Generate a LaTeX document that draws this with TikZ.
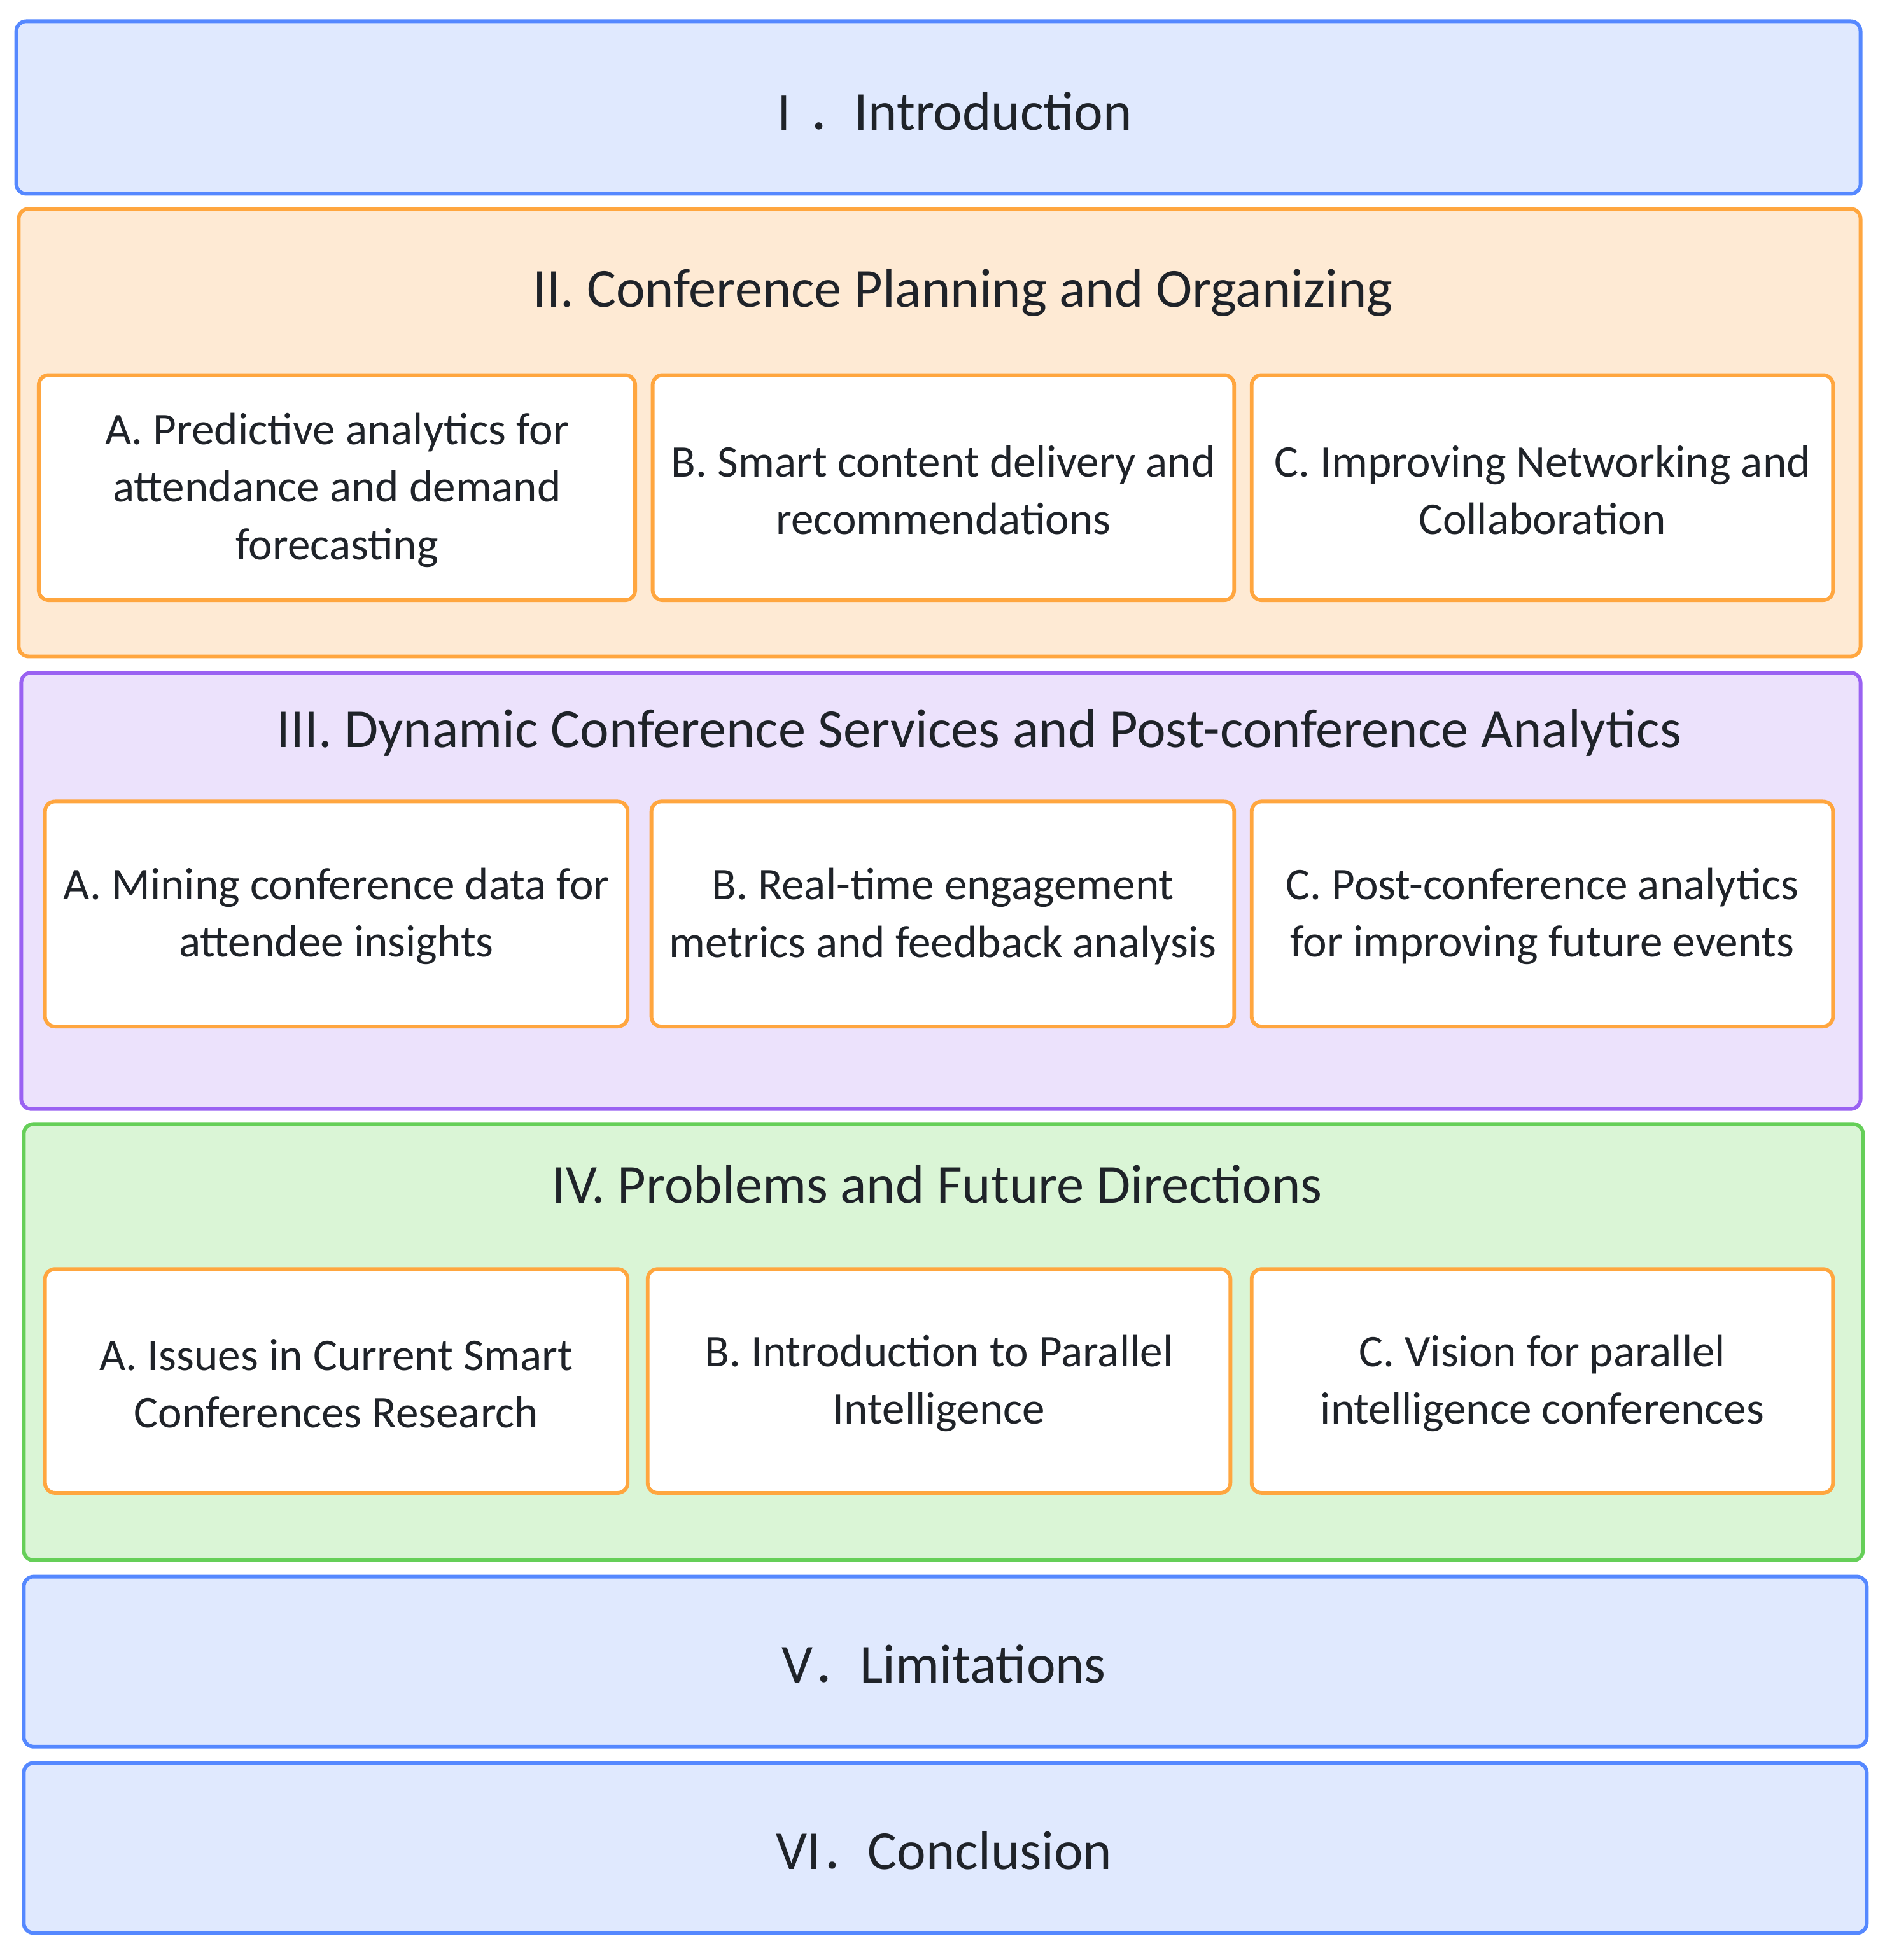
\documentclass[tikz,border=0pt]{standalone}
\usepackage{fontspec}
\usetikzlibrary{fit}
\setmainfont{Carlito}
\newfontfamily\cjk[Scale=0.85]{Noto Sans CJK SC}
\definecolor{txt}{HTML}{1F2329}
\definecolor{blueS}{HTML}{5588FF}
\definecolor{blueF}{HTML}{E0E9FE}
\definecolor{orS}{HTML}{FFA63F}
\definecolor{orF}{HTML}{FEEAD4}
\definecolor{puS}{HTML}{9A62F2}
\definecolor{puF}{HTML}{ECE2FC}
\definecolor{grS}{HTML}{65CF58}
\definecolor{grF}{HTML}{DAF5D6}
\tikzset{
  panel/.style={draw=#1S, fill=#1F, line width=1.5pt, rounded corners=4pt,
    inner sep=0pt, outer sep=0pt},
  subbox/.style={draw=orS, fill=white, line width=1.5pt, rounded corners=4pt,
    inner sep=0pt, outer sep=0pt},
  subtxt/.style={text=txt, inner sep=0pt, align=center, yshift=-1pt,
    font=\fontsize{18.2}{23.1}\selectfont},
  ttl/.style={text=txt, inner sep=0pt, font=\fontsize{22.1}{27}\selectfont}
}
\begin{document}
\begin{tikzpicture}[x=0.50235pt,y=-0.50235pt]
\path[use as bounding box, fill=white] (0pt,0pt) rectangle (760pt,-787.5pt);
% I
\node[panel=blue, fit={(13,17) (1488,155)}] (intro) {};
\node[ttl] (introT) at (757,89) {{\cjk Ⅰ．}Introduction};
% II
\node[panel=or, fit={(15,167) (1488,525)}] (plan) {};
\node[ttl] (planT) at (770,234) {II. Conference Planning and Organizing};
\node[subbox, fit={(31,300) (508,480)}] (planA) {};
\node[subbox, fit={(522,300) (987,480)}] (planB) {};
\node[subbox, fit={(1001,300) (1466,480)}] (planC) {};
\node[subtxt] (planAt) at (planA.center) {A. Predictive analytics for\\attendance and demand\\forecasting};
\node[subtxt] (planBt) at (planB.center) {B. Smart content delivery and\\recommendations};
\node[subtxt] (planCt) at (planC.center) {C. Improving Networking and\\Collaboration};
% III
\node[panel=pu, fit={(17,538) (1488,887)}] (dyn) {};
\node[ttl] (dynT) at (783,586) {III. Dynamic Conference Services and Post-conference Analytics};
\node[subbox, fit={(36,641) (502,821)}] (dynA) {};
\node[subbox, fit={(521,641) (987,821)}] (dynB) {};
\node[subbox, fit={(1001,641) (1466,821)}] (dynC) {};
\node[subtxt] (dynAt) at (dynA.center) {A. Mining conference data for\\attendee insights};
\node[subtxt] (dynBt) at (dynB.center) {B. Real-time engagement\\metrics and feedback analysis};
\node[subtxt] (dynCt) at (dynC.center) {C. Post-conference analytics\\for improving future events};
% IV
\node[panel=gr, fit={(19,899) (1490,1248)}] (prob) {};
\node[ttl] (probT) at (749.5,947) {IV. Problems and Future Directions};
\node[subbox, fit={(36,1015) (502,1194)}] (probA) {};
\node[subbox, fit={(518,1015) (984,1194)}] (probB) {};
\node[subbox, fit={(1001,1015) (1466,1194)}] (probC) {};
\node[subtxt] (probAt) at (probA.center) {A. Issues in Current Smart\\Conferences Research};
\node[subtxt] (probBt) at (probB.center) {B. Introduction to Parallel\\Intelligence};
\node[subtxt] (probCt) at (probC.center) {C. Vision for parallel\\intelligence conferences};
% V, VI
\node[panel=blue, fit={(19,1261) (1493,1397)}] (lim) {};
\node[ttl] (limT) at (755,1331) {V{\cjk ．}Limitations};
\node[panel=blue, fit={(19,1410) (1493,1546)}] (con) {};
\node[ttl] (conT) at (755,1480) {VI{\cjk ．}Conclusion};
\end{tikzpicture}
\end{document}
